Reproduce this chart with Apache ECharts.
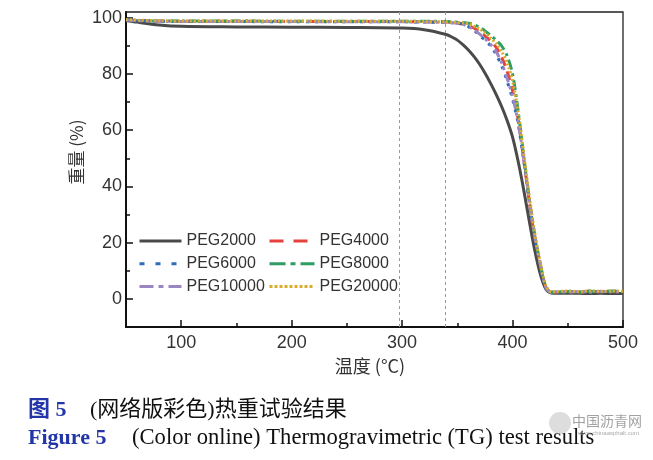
<!DOCTYPE html>
<html>
<head>
<meta charset="utf-8">
<script src="https://cdn.jsdelivr.net/npm/echarts@6/dist/echarts.min.js"></script>
<style>
html,body{margin:0;padding:0;background:#fff;}
#c{width:653px;height:460px;}
</style>
</head>
<body>
<div id="c"></div>
<script>
var temps = [50, 60, 80, 100, 150, 200, 250, 300, 320, 340, 345, 350, 355, 360, 365, 370, 375, 380, 385, 390, 395, 400, 405, 410, 415, 420, 425, 430, 435, 440, 450, 460, 470, 480, 490, 500];
var peg2000 = [99.0, 98.4, 97.4, 96.9, 96.7, 96.6, 96.5, 96.3, 95.7, 94.0, 93.1, 92.0, 90.4, 88.5, 86.2, 83.5, 80.3, 76.7, 72.8, 68.5, 63.5, 57.5, 49.0, 39.0, 28.0, 17.5, 9.0, 3.6, 2.1, 2.0, 2.0, 2.0, 1.9, 2.0, 1.9, 1.9];
var peg4000 = [99.2, 99.0, 98.8, 98.7, 98.7, 98.6, 98.6, 98.6, 98.5, 98.4, 98.3, 98.1, 97.8, 97.2, 96.3, 95.0, 93.5, 91.8, 89.5, 86.0, 81.0, 74.0, 64.0, 50.0, 35.0, 22.0, 12.5, 4.3, 2.4, 2.4, 2.6, 2.3, 2.7, 2.5, 2.6, 2.4];
var peg6000 = [99.1, 98.9, 98.7, 98.6, 98.6, 98.5, 98.5, 98.5, 98.4, 98.3, 98.2, 98.0, 97.6, 96.8, 95.5, 93.7, 92.0, 90.0, 87.0, 83.0, 77.5, 71.0, 62.5, 49.5, 35.0, 22.0, 12.0, 4.0, 2.3, 2.5, 2.7, 2.4, 2.8, 2.5, 2.7, 2.5];
var peg8000 = [99.3, 99.0, 98.8, 98.8, 98.8, 98.7, 98.7, 98.7, 98.7, 98.6, 98.5, 98.4, 98.2, 98.0, 97.5, 96.6, 95.3, 93.7, 92.0, 90.0, 86.5, 80.0, 67.0, 51.0, 36.0, 23.0, 12.5, 4.5, 2.4, 2.4, 2.6, 2.4, 2.7, 2.5, 2.8, 2.6];
var peg10000 = [99.2, 98.9, 98.7, 98.6, 98.6, 98.6, 98.5, 98.5, 98.4, 98.3, 98.2, 98.0, 97.6, 96.9, 95.7, 94.2, 92.5, 90.5, 88.0, 84.0, 78.5, 72.0, 63.0, 50.0, 35.5, 22.5, 12.5, 4.2, 2.4, 2.5, 2.4, 2.6, 2.4, 2.7, 2.5, 2.6];
var peg20000 = [99.3, 99.1, 98.9, 98.8, 98.8, 98.8, 98.7, 98.7, 98.6, 98.5, 98.4, 98.3, 98.1, 97.8, 97.0, 96.0, 94.6, 92.8, 90.8, 88.0, 84.0, 77.5, 66.5, 52.0, 37.0, 23.5, 13.0, 4.8, 2.5, 2.6, 2.8, 2.5, 2.9, 2.6, 2.8, 2.7];
var xMajor = [100, 200, 300, 400, 500];
var xMinor = [150, 250, 350, 450];
var yMajor = [0, 20, 40, 60, 80, 100];
var yMinor = [-10, 10, 30, 50, 70, 90];
var refLines = [297, 339];

function pairs(v){ return temps.map(function(t,i){ return [t, v[i]]; }); }

var chart = echarts.init(document.getElementById('c'), null, {renderer:'canvas'});
var lab = {color:'#333', fontSize:18, fontFamily:'Liberation Sans, Arial, sans-serif'};

var seriesDefs = [
  {name:'PEG2000', data:peg2000, color:'#4a4a4a', type:'solid', leg:'solid'},
  {name:'PEG4000', data:peg4000, color:'#e5413e', type:[9,6], leg:[14,10]},
  {name:'PEG6000', data:peg6000, color:'#2e6bb8', type:[3,6], leg:[5,11]},
  {name:'PEG8000', data:peg8000, color:'#2f9d62', type:[10,4,3,4], leg:[16,5,5,5]},
  {name:'PEG10000', data:peg10000, color:'#9b86c4', type:[9,4,3,4,3,4], leg:[14,5,5,5]},
  {name:'PEG20000', data:peg20000, color:'#d8ac2c', type:[2,2], leg:[3,2]}
];
var series = seriesDefs.map(function(s, i){
  var o = {
    name: s.name, type:'line', data: pairs(s.data), showSymbol:false, symbol:'none',
    smooth: 0.3, xAxisIndex:0, yAxisIndex:0,
    lineStyle:{color:s.color, width:3, type:s.type},
    itemStyle:{color:s.color},
    z: 3 + i
  };
  if (i === 0) {
    o.markLine = {
      silent:true, symbol:'none', label:{show:false},
      lineStyle:{color:'#9a9a9a', type:[3,3], width:1},
      data: refLines.map(function(v){ return {xAxis:v}; })
    };
  }
  return o;
});
function legItem(name){
  var s = seriesDefs.filter(function(d){ return d.name === name; })[0];
  return {name:name, lineStyle:{color:s.color, width:3, type:s.leg}};
}

var legText = {color:'#333', fontSize:16, fontFamily:'Liberation Sans, Arial, sans-serif'};
chart.setOption({
  animation:false,
  backgroundColor:'#fff',
  grid:{left:126, right:30, top:12, bottom:133, show:true, borderColor:'#222', borderWidth:1.3, containLabel:false},
  legend:[
    {orient:'vertical', left:133, top:228, itemWidth:42, itemHeight:16, itemGap:6.7,
     itemStyle:{opacity:0}, lineStyle:{width:3}, textStyle:legText,
     data:['PEG2000','PEG6000','PEG10000'].map(legItem)},
    {orient:'vertical', left:263, top:228, itemWidth:45, itemHeight:16, itemGap:6.7,
     itemStyle:{opacity:0}, lineStyle:{width:3}, textStyle:legText,
     data:['PEG4000','PEG8000','PEG20000'].map(legItem)}
  ],
  xAxis:[
    {type:'value', min:50, max:500, position:'bottom',
     axisLine:{show:true, onZero:false, lineStyle:{color:'#111', width:2}},
     axisTick:{show:true, inside:true, length:7, lineStyle:{color:'#111', width:1.5}, customValues:xMajor},
     axisLabel:{show:true, customValues:xMajor, margin:7, color:lab.color, fontSize:lab.fontSize, fontFamily:lab.fontFamily},
     splitLine:{show:false}},
    {type:'value', min:50, max:500, position:'bottom',
     axisLine:{show:false, onZero:false},
     axisTick:{show:true, inside:true, length:4, lineStyle:{color:'#111', width:1.5}, customValues:xMinor},
     axisLabel:{show:false}, splitLine:{show:false}}
  ],
  yAxis:[
    {type:'value', min:-10, max:102, position:'left',
     axisLine:{show:true, onZero:false, lineStyle:{color:'#111', width:2}},
     axisTick:{show:true, inside:true, length:7, lineStyle:{color:'#111', width:1.5}, customValues:yMajor},
     axisLabel:{show:true, customValues:yMajor, margin:4, color:lab.color, fontSize:lab.fontSize, fontFamily:lab.fontFamily},
     splitLine:{show:false}},
    {type:'value', min:-10, max:102, position:'left',
     axisLine:{show:false, onZero:false},
     axisTick:{show:true, inside:true, length:4, lineStyle:{color:'#111', width:1.5}, customValues:yMinor},
     axisLabel:{show:false}, splitLine:{show:false}}
  ],
  series: series,
  graphic:[
    {type:'text', x:370, y:366, style:{text:'温度 (°C)', fill:'#333', font:'18px "Noto Sans CJK SC", sans-serif', align:'center', verticalAlign:'middle'}},
    {type:'text', x:77, y:152, rotation:Math.PI/2, style:{text:'重量 (%)', fill:'#333', font:'17px "Noto Sans CJK SC", sans-serif', align:'center', verticalAlign:'middle'}},
    {type:'text', x:28, y:410, style:{text:'图 5', fill:'#2336a8', font:'bold 22px "Liberation Serif", "Noto Sans CJK SC", serif', verticalAlign:'middle'}},
    {type:'text', x:90, y:410, style:{text:'(网络版彩色)热重试验结果', fill:'#111', font:'22px "Liberation Serif", "Noto Sans CJK SC", serif', verticalAlign:'middle'}},
    {type:'text', x:28, y:438, style:{text:'Figure 5', fill:'#2336a8', font:'bold 22px "Liberation Serif", serif', verticalAlign:'middle'}},
    {type:'text', x:132, y:438, style:{text:'(Color online) Thermogravimetric (TG) test results', fill:'#111', font:'22.6px "Liberation Serif", serif', verticalAlign:'middle'}},
    {type:'circle', shape:{cx:560, cy:423, r:11}, style:{fill:'#cfcfcf', opacity:0.7}},
    {type:'text', x:572, y:421, style:{text:'中国沥青网', fill:'#8a8a8a', font:'14px "Noto Sans CJK SC", sans-serif', verticalAlign:'middle', opacity:0.8}},
    {type:'text', x:578, y:433, style:{text:'www.chinaasphalt.com', fill:'#aaa', font:'6px "Liberation Sans", sans-serif', verticalAlign:'middle'}}
  ]
});
</script>
</body>
</html>
